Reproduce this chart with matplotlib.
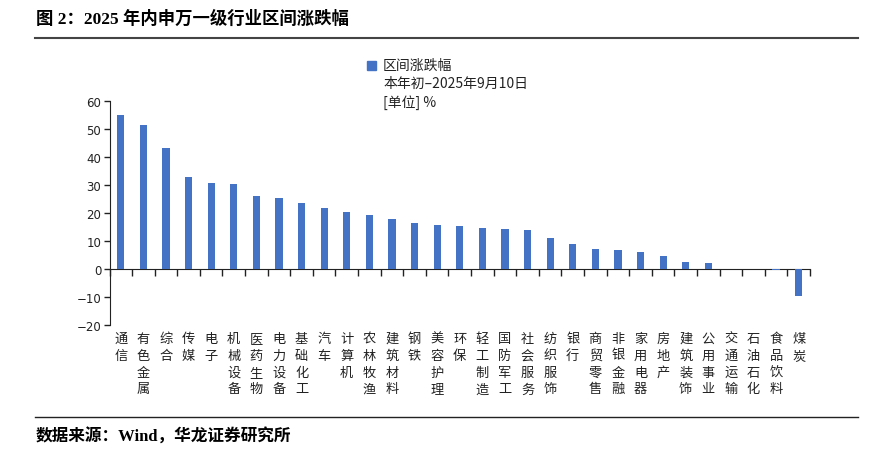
import matplotlib
matplotlib.use("Agg")
import matplotlib.pyplot as plt
import matplotlib.transforms as mtransforms
from matplotlib.patches import Rectangle
import numpy as np

plt.rcParams['font.family'] = ['Noto Sans CJK SC', 'DejaVu Sans']

categories = ["通信", "有色金属", "综合", "传媒", "电子", "机械设备", "医药生物", "电力设备",
              "基础化工", "汽车", "计算机", "农林牧渔", "建筑材料", "钢铁", "美容护理", "环保",
              "轻工制造", "国防军工", "社会服务", "纺织服饰", "银行", "商贸零售", "非银金融",
              "家用电器", "房地产", "建筑装饰", "公用事业", "交通运输", "石油石化", "食品饮料", "煤炭"]
values = [55.1, 51.5, 43.2, 33.0, 30.7, 30.4, 26.1, 25.4,
          23.7, 21.8, 20.4, 19.4, 18.0, 16.4, 15.7, 15.3,
          14.7, 14.2, 14.0, 11.1, 8.8, 7.0, 6.7, 6.1,
          4.8, 2.5, 2.0, 0.1, 0.1, -0.3, -9.8]
yticks = [-20, -10, 0, 10, 20, 30, 40, 50, 60]
legend_lines = ["区间涨跌幅", "本年初–2025年9月10日", "[单位] %"]
title = "图 2：2025 年内申万一级行业区间涨跌幅"
source = "数据来源：Wind，华龙证券研究所"

W, H = 872, 460
fig = plt.figure(figsize=(W / 100, H / 100), dpi=100)
ax = fig.add_axes([109.5 / W, 1 - 326 / H, (810 - 109.5) / W, (326 - 102) / H])

x = np.arange(len(categories))
bar_color = "#4472C4"
ax.bar(x, values, width=0.32, color=bar_color, zorder=3)

ax.set_xlim(-0.5, len(categories) - 0.5)
ax.set_ylim(-20, 60)
ax.set_yticks(yticks)
ax.set_yticklabels([str(v).replace("-", "−") for v in yticks], fontsize=8.5,
                   family=['DejaVu Sans'], color="#222222")
ax.tick_params(axis='y', direction='out', length=4, width=1, color="#222222", pad=2)

for s in ['top', 'right']:
    ax.spines[s].set_visible(False)
ax.spines['left'].set_color("#222222")
ax.spines['bottom'].set_position(('data', 0))
ax.spines['bottom'].set_color("#222222")
ax.set_xticks(np.arange(len(categories) + 1) - 0.5)
ax.set_xticklabels([])
ax.tick_params(axis='x', direction='out', length=5, width=1, color="#222222")

trans = mtransforms.blended_transform_factory(ax.transData, fig.transFigure)
for i, c in enumerate(categories):
    ax.text(i, 1 - 333 / H, "\n".join(c), transform=trans, ha='center', va='top',
            fontsize=9.5, linespacing=1.38, color="#222222")

# legend
fig.patches.append(Rectangle((367 / W, 1 - 71 / H), 9 / W, 9 / H,
                             transform=fig.transFigure, color=bar_color))
fig.text(383 / W, 1 - 66 / H, legend_lines[0], fontsize=10, va='center', color="#222222")
fig.text(383 / W, 1 - 84 / H, legend_lines[1], fontsize=10, va='center', color="#222222")
fig.text(383 / W, 1 - 103 / H, legend_lines[2], fontsize=10, va='center', color="#222222")

# title and rules
fig.text(36 / W, 1 - 19 / H, title, fontsize=12.5, fontweight='bold', va='center',
         family=['Liberation Serif', 'Noto Sans CJK SC'])
fig.add_artist(plt.Line2D([35 / W, 858 / W], [1 - 39 / H, 1 - 39 / H], color="#444444", lw=1.5))
fig.add_artist(plt.Line2D([35 / W, 858 / W], [1 - 418 / H, 1 - 418 / H], color="#222222", lw=1.0))
fig.text(36 / W, 1 - 437 / H, source, fontsize=12, fontweight='bold', va='center',
         family=['Liberation Serif', 'Noto Sans CJK SC'])

fig.savefig("out.png", dpi=100)
